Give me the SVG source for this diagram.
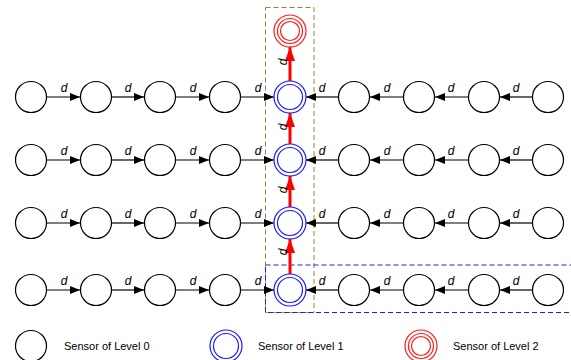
<svg xmlns="http://www.w3.org/2000/svg" width="571" height="360" viewBox="0 0 571 360">
<style>
.s0{fill:#fff;stroke:#000;stroke-width:1.2}
.s1{fill:#fff;stroke:#1a1aff;stroke-width:1.2}
.s1i{fill:none;stroke:#1a1aff;stroke-width:1.2}
.s2{fill:#fff;stroke:#ff1a1a;stroke-width:1.2}
.s2i{fill:none;stroke:#ff1a1a;stroke-width:1.2}
.h{stroke:#000;stroke-width:1.2;fill:none;marker-end:url(#ah)}
.v{stroke:#ff0000;stroke-width:3;fill:none;marker-end:url(#ar)}
.d{font-family:"Liberation Sans",Arial,sans-serif;font-style:italic;font-size:12px;fill:#000;text-anchor:middle}
.lg{font-family:"Liberation Sans",Arial,sans-serif;font-size:11px;fill:#000}
</style>
<defs>
<marker id="ah" markerUnits="userSpaceOnUse" markerWidth="10" markerHeight="8" refX="10" refY="4" orient="auto"><path d="M0,0 L10,4 L0,8 z" fill="#000"/></marker>
<marker id="ar" markerUnits="userSpaceOnUse" markerWidth="14" markerHeight="10" refX="14" refY="5" orient="auto"><path d="M0,0 L14,5 L0,10 z" fill="#ff0000"/></marker>
</defs>
<g id="regions">
<rect x="265.5" y="7.5" width="48.5" height="305" fill="none" stroke="#8a8a30" stroke-width="1" stroke-dasharray="5,3"/>
<rect x="265.5" y="265" width="320" height="47.5" fill="none" stroke="#2020e0" stroke-width="1" stroke-dasharray="5,3"/>
</g>
<g id="connectors">
<line class="h" x1="47" y1="97" x2="80" y2="97"/><line class="h" x1="112" y1="97" x2="144" y2="97"/><line class="h" x1="176" y1="97" x2="209" y2="97"/><line class="h" x1="241" y1="97" x2="274" y2="97"/>
<line class="h" x1="338" y1="97" x2="306" y2="97"/><line class="h" x1="403" y1="97" x2="370" y2="97"/><line class="h" x1="468" y1="97" x2="435" y2="97"/><line class="h" x1="532" y1="97" x2="500" y2="97"/>
<line class="h" x1="47" y1="160" x2="80" y2="160"/><line class="h" x1="112" y1="160" x2="144" y2="160"/><line class="h" x1="176" y1="160" x2="209" y2="160"/><line class="h" x1="241" y1="160" x2="274" y2="160"/>
<line class="h" x1="338" y1="160" x2="306" y2="160"/><line class="h" x1="403" y1="160" x2="370" y2="160"/><line class="h" x1="468" y1="160" x2="435" y2="160"/><line class="h" x1="532" y1="160" x2="500" y2="160"/>
<line class="h" x1="47" y1="223" x2="80" y2="223"/><line class="h" x1="112" y1="223" x2="144" y2="223"/><line class="h" x1="176" y1="223" x2="209" y2="223"/><line class="h" x1="241" y1="223" x2="274" y2="223"/>
<line class="h" x1="338" y1="223" x2="306" y2="223"/><line class="h" x1="403" y1="223" x2="370" y2="223"/><line class="h" x1="468" y1="223" x2="435" y2="223"/><line class="h" x1="532" y1="223" x2="500" y2="223"/>
<line class="h" x1="47" y1="290" x2="80" y2="290"/><line class="h" x1="112" y1="290" x2="144" y2="290"/><line class="h" x1="176" y1="290" x2="209" y2="290"/><line class="h" x1="241" y1="290" x2="274" y2="290"/>
<line class="h" x1="338" y1="290" x2="306" y2="290"/><line class="h" x1="403" y1="290" x2="370" y2="290"/><line class="h" x1="468" y1="290" x2="435" y2="290"/><line class="h" x1="532" y1="290" x2="500" y2="290"/>
<line class="v" x1="290" y1="81" x2="290" y2="47"/>
<line class="v" x1="290" y1="144" x2="290" y2="113"/>
<line class="v" x1="290" y1="207" x2="290" y2="176"/>
<line class="v" x1="290" y1="274" x2="290" y2="239"/>
<g class="d">
<text x="64" y="92">d</text><text x="128" y="92">d</text><text x="193" y="92">d</text><text x="258" y="92">d</text>
<text x="322" y="92">d</text><text x="387" y="92">d</text><text x="451" y="92">d</text><text x="516" y="92">d</text>
<text x="64" y="155">d</text><text x="128" y="155">d</text><text x="193" y="155">d</text><text x="258" y="155">d</text>
<text x="322" y="155">d</text><text x="387" y="155">d</text><text x="451" y="155">d</text><text x="516" y="155">d</text>
<text x="64" y="218">d</text><text x="128" y="218">d</text><text x="193" y="218">d</text><text x="258" y="218">d</text>
<text x="322" y="218">d</text><text x="387" y="218">d</text><text x="451" y="218">d</text><text x="516" y="218">d</text>
<text x="64" y="285">d</text><text x="128" y="285">d</text><text x="193" y="285">d</text><text x="258" y="285">d</text>
<text x="322" y="285">d</text><text x="387" y="285">d</text><text x="451" y="285">d</text><text x="516" y="285">d</text>
<text transform="translate(287,62) rotate(-90)">d</text>
<text transform="translate(287,127) rotate(-90)">d</text>
<text transform="translate(287,190) rotate(-90)">d</text>
<text transform="translate(287,252) rotate(-90)">d</text>
</g>
</g>
<g id="n-top"><circle class="s2" cx="290" cy="31" r="16"/><circle class="s2i" cx="290" cy="31" r="12.5"/><circle class="s2i" cx="290" cy="31" r="9.5"/></g>
<g id="row1">
<g id="n1-1"><circle class="s0" cx="31" cy="97" r="15.5"/></g><g id="n1-2"><circle class="s0" cx="96" cy="97" r="15.5"/></g><g id="n1-3"><circle class="s0" cx="160" cy="97" r="15.5"/></g><g id="n1-4"><circle class="s0" cx="225" cy="97" r="15.5"/></g>
<g id="n1-5"><circle class="s1" cx="290" cy="97" r="16"/><circle class="s1i" cx="290" cy="97" r="12.5"/></g>
<g id="n1-6"><circle class="s0" cx="354" cy="97" r="15.5"/></g><g id="n1-7"><circle class="s0" cx="419" cy="97" r="15.5"/></g><g id="n1-8"><circle class="s0" cx="484" cy="97" r="15.5"/></g><g id="n1-9"><circle class="s0" cx="548" cy="97" r="15.5"/></g>
</g>
<g id="row2">
<g id="n2-1"><circle class="s0" cx="31" cy="160" r="15.5"/></g><g id="n2-2"><circle class="s0" cx="96" cy="160" r="15.5"/></g><g id="n2-3"><circle class="s0" cx="160" cy="160" r="15.5"/></g><g id="n2-4"><circle class="s0" cx="225" cy="160" r="15.5"/></g>
<g id="n2-5"><circle class="s1" cx="290" cy="160" r="16"/><circle class="s1i" cx="290" cy="160" r="12.5"/></g>
<g id="n2-6"><circle class="s0" cx="354" cy="160" r="15.5"/></g><g id="n2-7"><circle class="s0" cx="419" cy="160" r="15.5"/></g><g id="n2-8"><circle class="s0" cx="484" cy="160" r="15.5"/></g><g id="n2-9"><circle class="s0" cx="548" cy="160" r="15.5"/></g>
</g>
<g id="row3">
<g id="n3-1"><circle class="s0" cx="31" cy="223" r="15.5"/></g><g id="n3-2"><circle class="s0" cx="96" cy="223" r="15.5"/></g><g id="n3-3"><circle class="s0" cx="160" cy="223" r="15.5"/></g><g id="n3-4"><circle class="s0" cx="225" cy="223" r="15.5"/></g>
<g id="n3-5"><circle class="s1" cx="290" cy="223" r="16"/><circle class="s1i" cx="290" cy="223" r="12.5"/></g>
<g id="n3-6"><circle class="s0" cx="354" cy="223" r="15.5"/></g><g id="n3-7"><circle class="s0" cx="419" cy="223" r="15.5"/></g><g id="n3-8"><circle class="s0" cx="484" cy="223" r="15.5"/></g><g id="n3-9"><circle class="s0" cx="548" cy="223" r="15.5"/></g>
</g>
<g id="row4">
<g id="n4-1"><circle class="s0" cx="31" cy="290" r="15.5"/></g><g id="n4-2"><circle class="s0" cx="96" cy="290" r="15.5"/></g><g id="n4-3"><circle class="s0" cx="160" cy="290" r="15.5"/></g><g id="n4-4"><circle class="s0" cx="225" cy="290" r="15.5"/></g>
<g id="n4-5"><circle class="s1" cx="290" cy="290" r="16"/><circle class="s1i" cx="290" cy="290" r="12.5"/></g>
<g id="n4-6"><circle class="s0" cx="354" cy="290" r="15.5"/></g><g id="n4-7"><circle class="s0" cx="419" cy="290" r="15.5"/></g><g id="n4-8"><circle class="s0" cx="484" cy="290" r="15.5"/></g><g id="n4-9"><circle class="s0" cx="548" cy="290" r="15.5"/></g>
</g>
<g id="legend">
<g id="lg0"><circle class="s0" cx="31" cy="346" r="15.5"/><text class="lg" x="64" y="350">Sensor of Level 0</text></g>
<g id="lg1"><circle class="s1" cx="226" cy="346" r="16"/><circle class="s1i" cx="226" cy="346" r="12.5"/><text class="lg" x="258" y="350">Sensor of Level 1</text></g>
<g id="lg2"><circle class="s2" cx="421" cy="346" r="16"/><circle class="s2i" cx="421" cy="346" r="12.5"/><circle class="s2i" cx="421" cy="346" r="9.5"/><text class="lg" x="453" y="350">Sensor of Level 2</text></g>
</g>
</svg>
